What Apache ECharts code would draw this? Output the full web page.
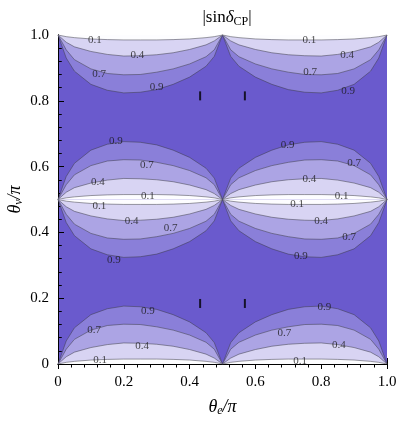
<!DOCTYPE html>
<html>
<head>
<meta charset="utf-8">
<script src="https://cdn.jsdelivr.net/npm/echarts@6/dist/echarts.min.js"></script>
<style>
  html, body { margin: 0; padding: 0; background: #fff; }
  #chart { width: 399px; height: 422px; }
</style>
</head>
<body>
<div id="chart"></div>
<script>
// contour levels, and the colour of the band just inside each one
const levels = [0.9, 0.7, 0.4, 0.1];
const bandColors = ["#8a7fd9", "#aca4e4", "#d8d4f3", "#fdfdff"];
const outerColor = "#6a5acd";

// how far each contour sits from its zero line, read at fractions u of a half period
// (u = 0 at the outer edge x = 0 or 1, u = 1 at x = 0.5)
const uSteps = [0, 0.05, 0.1, 0.2, 0.3, 0.4, 0.5, 0.6, 0.7, 0.8, 0.9, 0.95, 1];
const depth09 = [0, 0.07, 0.11, 0.15, 0.168, 0.176, 0.174, 0.166, 0.15, 0.128, 0.095, 0.065, 0];
const depth07 = [0, 0.045, 0.075, 0.103, 0.117, 0.121, 0.12, 0.113, 0.103, 0.088, 0.066, 0.045, 0];
const depth04 = [0, 0.022, 0.036, 0.05, 0.059, 0.064, 0.063, 0.06, 0.054, 0.044, 0.03, 0.018, 0];
const depth01 = [0, 0.005, 0.008, 0.012, 0.014, 0.015, 0.015, 0.015, 0.014, 0.012, 0.008, 0.005, 0];
const depths = [depth09, depth07, depth04, depth01];

// lobes: [outer x, inner x, zero line y, side (+1 up, -1 down)]
const lobes = [
  [0, 0.5, 1, -1], [1, 0.5, 1, -1],
  [0, 0.5, 0.5, 1], [0, 0.5, 0.5, -1],
  [1, 0.5, 0.5, 1], [1, 0.5, 0.5, -1],
  [0, 0.5, 0, 1], [1, 0.5, 0, 1],
];

// contour labels [x, y, text]
const contourLabels = [
  [0.112, 0.985, "0.1"], [0.241, 0.939, "0.4"], [0.125, 0.881, "0.7"], [0.3, 0.843, "0.9"],
  [0.764, 0.985, "0.1"], [0.879, 0.939, "0.4"], [0.766, 0.888, "0.7"], [0.882, 0.828, "0.9"],
  [0.176, 0.678, "0.9"], [0.27, 0.605, "0.7"], [0.121, 0.554, "0.4"], [0.273, 0.51, "0.1"],
  [0.126, 0.48, "0.1"], [0.224, 0.433, "0.4"], [0.342, 0.414, "0.7"], [0.17, 0.316, "0.9"],
  [0.698, 0.664, "0.9"], [0.9, 0.61, "0.7"], [0.764, 0.561, "0.4"], [0.862, 0.509, "0.1"],
  [0.727, 0.486, "0.1"], [0.8, 0.435, "0.4"], [0.885, 0.385, "0.7"], [0.738, 0.328, "0.9"],
  [0.273, 0.162, "0.9"], [0.11, 0.103, "0.7"], [0.256, 0.055, "0.4"], [0.128, 0.012, "0.1"],
  [0.81, 0.174, "0.9"], [0.688, 0.093, "0.7"], [0.854, 0.058, "0.4"], [0.736, 0.01, "0.1"],
];

// small black bars
const markers = [[0.432, 0.815], [0.568, 0.815], [0.432, 0.184], [0.568, 0.184]];

const tickLabels = ["0", "0.2", "0.4", "0.6", "0.8", "1.0"];

// build the filled contour bands
const polys = [];
lobes.forEach(([xo, xi, y0, side]) => {
  levels.forEach((lv, k) => {
    const pts = uSteps.map((u, j) => [xo + (xi - xo) * u, y0 + side * depths[k][j]]);
    polys.push({ pts: pts, color: bandColors[k] });
  });
});

const font = "Liberation Serif";
const tickFmt = (v) => tickLabels[Math.round(v / 0.2)];

const chart = echarts.init(document.getElementById("chart"));

const axisCommon = {
  type: "value",
  min: 0,
  max: 1,
  interval: 0.2,
  splitLine: { show: false },
  axisLine: { show: true, lineStyle: { color: "#000", width: 1 } },
  axisTick: { show: true, inside: true, length: 6, lineStyle: { color: "#000", width: 1 } },
  minorTick: { show: true, splitNumber: 5, length: 3.5, lineStyle: { color: "#000", width: 1 } },
};

const option = {
  animation: false,
  title: {
    text: "{a||sin}{b|δ}{c|CP}{a||}",
    left: 222,
    top: 2,
    textAlign: "center",
    textStyle: {
      rich: {
        a: { fontFamily: font, fontSize: 17, fontWeight: "normal", color: "#000" },
        b: { fontFamily: font, fontSize: 17, fontWeight: "normal", fontStyle: "italic", color: "#000" },
        c: { fontFamily: font, fontSize: 12, fontWeight: "normal", color: "#000", padding: [9, 0, 0, 0] },
      },
    },
  },
  grid: {
    left: 58, right: 12, top: 35, bottom: 58,
    outerBoundsMode: "none",
    containLabel: false,
    show: true, backgroundColor: outerColor, borderWidth: 0,
  },
  xAxis: [
    {
      ...axisCommon,
      position: "bottom",
      offset: 6,
      axisLabel: { formatter: tickFmt, fontFamily: font, fontSize: 15, color: "#000", margin: 5 },
      name: "{i|θ}{s|e}{i|/π}",
      nameLocation: "middle",
      nameGap: 27,
      nameMoveOverlap: false,
      nameTextStyle: {
        rich: {
          i: { fontFamily: font, fontSize: 18, fontStyle: "italic", color: "#000" },
          s: { fontFamily: font, fontSize: 12, fontStyle: "italic", color: "#000", padding: [8, 0, 0, 0] },
        },
      },
    },
    {
      ...axisCommon,
      position: "top",
      axisLabel: { show: false },
      axisTick: { ...axisCommon.axisTick, length: 5 },
    },
  ],
  yAxis: [
    {
      ...axisCommon,
      position: "left",
      offset: 6,
      axisLabel: { formatter: tickFmt, fontFamily: font, fontSize: 15, color: "#000", margin: 3 },
      name: "{i|θ}{s|ν}{i|/π}",
      nameLocation: "middle",
      nameGap: 27,
      nameMoveOverlap: false,
      nameTextStyle: {
        rich: {
          i: { fontFamily: font, fontSize: 18, fontStyle: "italic", color: "#000" },
          s: { fontFamily: font, fontSize: 12, fontStyle: "italic", color: "#000", padding: [8, 0, 0, 0] },
        },
      },
    },
    {
      ...axisCommon,
      position: "right",
      axisLabel: { show: false },
      axisTick: { ...axisCommon.axisTick, inside: false },
      minorTick: { ...axisCommon.minorTick, length: 3.5 },
    },
  ],
  series: [
    {
      type: "custom",
      coordinateSystem: "cartesian2d",
      silent: true,
      data: polys.map(() => [0.5, 0.5]),
      renderItem: (params, api) => {
        const p = polys[params.dataIndex];
        const pts = p.pts.map((pt) => api.coord(pt));
        return {
          type: "group",
          children: [
            { type: "polygon", shape: { points: pts }, style: { fill: p.color } },
            {
              type: "polyline",
              shape: { points: pts },
              style: { stroke: "#3c3c46", lineWidth: 0.6, fill: null, opacity: 0.85 },
            },
          ],
        };
      },
    },
    {
      type: "scatter",
      silent: true,
      symbolSize: 0,
      data: contourLabels.map((d) => ({ value: [d[0], d[1]], name: d[2] })),
      label: {
        show: true,
        position: "inside",
        formatter: "{b}",
        fontFamily: font,
        fontSize: 11,
        color: "#1a1a1a",
      },
      z: 5,
    },
    {
      type: "scatter",
      silent: true,
      symbol: "rect",
      symbolSize: [2, 9],
      itemStyle: { color: "#000" },
      data: markers,
      z: 6,
    },
  ],
};

chart.setOption(option);
</script>
</body>
</html>
